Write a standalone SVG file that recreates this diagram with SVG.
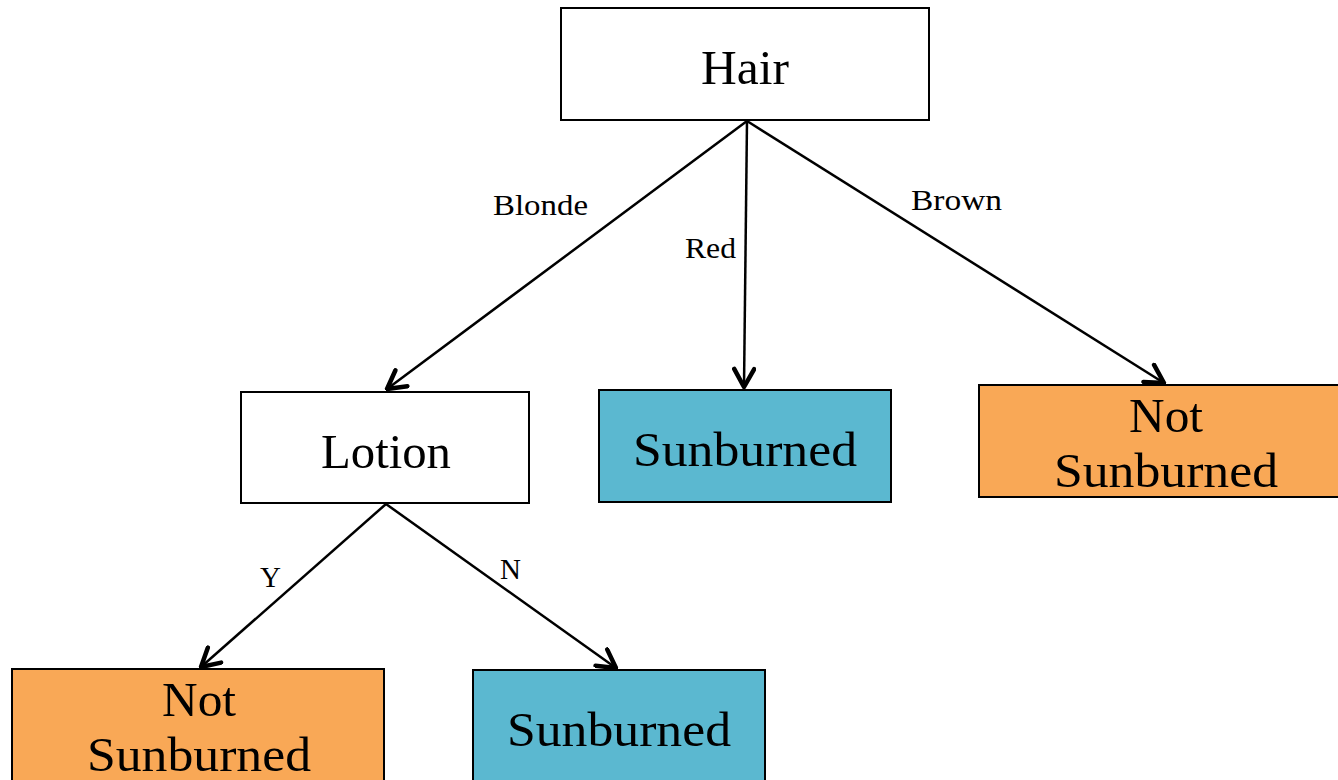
<svg xmlns="http://www.w3.org/2000/svg" width="1338" height="780" viewBox="0 0 1338 780">
<defs>
<style>
.box{stroke:#000;stroke-width:2}
.w{fill:#fff}
.b{fill:#5BB8D0}
.o{fill:#F9A856}
.t{font-family:"Liberation Serif",serif;font-size:48px;fill:#000;text-anchor:middle}
.l{font-family:"Liberation Serif",serif;font-size:29px;fill:#000}
.e{stroke:#000;stroke-width:2.5;fill:none;marker-end:url(#ah)}
</style>
<marker id="ah" viewBox="0 0 24 24" refX="22" refY="12" markerWidth="24" markerHeight="24" markerUnits="userSpaceOnUse" orient="auto">
<path d="M4,2 L22,12 L4,22" fill="none" stroke="#000" stroke-width="4.5" stroke-linecap="round" stroke-linejoin="round"/>
</marker>
</defs>
<g id="connectors">
<line class="e" x1="747" y1="121" x2="387" y2="389"/>
<line class="e" x1="747" y1="121" x2="744" y2="387"/>
<line class="e" x1="747" y1="121" x2="1164" y2="383"/>
<line class="e" x1="386" y1="504" x2="201" y2="667"/>
<line class="e" x1="386" y1="504" x2="616" y2="668"/>
<text class="l" x="493" y="215" textLength="95" lengthAdjust="spacingAndGlyphs">Blonde</text>
<text class="l" x="685" y="258" textLength="51" lengthAdjust="spacingAndGlyphs">Red</text>
<text class="l" x="911" y="210" textLength="91" lengthAdjust="spacingAndGlyphs">Brown</text>
<text class="l" x="260" y="587">Y</text>
<text class="l" x="500" y="579">N</text>
</g>
<g id="hair">
<rect class="box w" x="561" y="8" width="368" height="112"/>
<text class="t" x="745" y="84" textLength="88" lengthAdjust="spacingAndGlyphs">Hair</text>
</g>
<g id="lotion">
<rect class="box w" x="241" y="392" width="288" height="111"/>
<text class="t" x="386" y="468" textLength="130" lengthAdjust="spacingAndGlyphs">Lotion</text>
</g>
<g id="red-sunburned">
<rect class="box b" x="599" y="390" width="292" height="112"/>
<text class="t" x="745" y="466" textLength="224" lengthAdjust="spacingAndGlyphs">Sunburned</text>
</g>
<g id="brown-not-sunburned">
<rect class="box o" x="979" y="385" width="362" height="112"/>
<text class="t" x="1166" y="432" textLength="74" lengthAdjust="spacingAndGlyphs">Not</text>
<text class="t" x="1166" y="487" textLength="224" lengthAdjust="spacingAndGlyphs">Sunburned</text>
</g>
<g id="y-not-sunburned">
<rect class="box o" x="12" y="669" width="372" height="115"/>
<text class="t" x="199" y="716" textLength="74" lengthAdjust="spacingAndGlyphs">Not</text>
<text class="t" x="199" y="771" textLength="224" lengthAdjust="spacingAndGlyphs">Sunburned</text>
</g>
<g id="n-sunburned">
<rect class="box b" x="473" y="670" width="292" height="114"/>
<text class="t" x="619" y="746" textLength="224" lengthAdjust="spacingAndGlyphs">Sunburned</text>
</g>
</svg>
